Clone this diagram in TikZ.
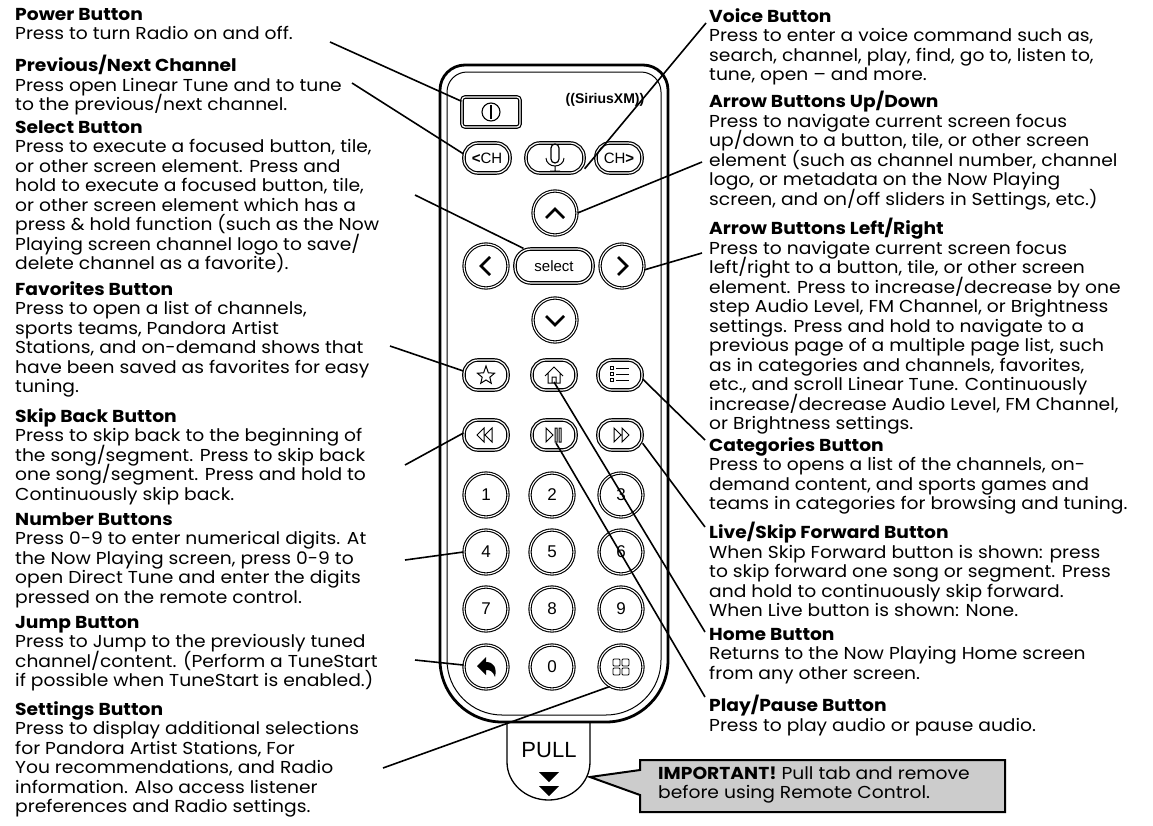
\documentclass[tikz,border=0pt]{standalone}
\usepackage{fontspec}
\setmainfont{Poppins}[FakeStretch=1.08]
\newfontfamily\arialf{Liberation Sans}
\newcommand\tightls{\lineskiplimit=-20pt\relax\lineskip=0pt\relax}
\begin{document}
\begin{tikzpicture}[x=1pt,y=-1pt,
  txt/.style={anchor=north west,align=left,inner sep=0pt,font=\fontsize{17.3}{19.5}\selectfont\tightls},
  ln/.style={line width=1.6pt},
  pill/.style={draw,line width=1.2pt,rounded corners=14pt,minimum height=30pt,double=white,double distance=1.2pt},
  circ/.style={draw,circle,line width=1.1pt,minimum size=44pt,inner sep=0pt,double=white,double distance=1.1pt,font=\arialf\fontsize{17}{17}\selectfont}]
\useasboundingbox (0,0) rectangle (1153,825);
% pull tab
\draw[line width=1.3pt,fill=white] (507,718) -- (507,762) arc(180:0:41.5 and 38) -- (590,718);
% body
\draw[line width=2.8pt,fill=white] (440,90) arc(180:270:25) -- (643,65) arc(270:360:25) -- (668,660) arc(0:90:62) -- (502,722) arc(90:180:62) -- cycle;
\draw[line width=1pt] (447,92) arc(180:270:20) -- (641,72) arc(270:360:20) -- (661,660) arc(0:90:55) -- (502,715) arc(90:180:55) -- cycle;
\node[inner sep=0pt,font=\arialf\fontsize{22}{22}\selectfont] (pull) at (549,750) {PULL};
\fill (539,772) -- (559,772) -- (549,782) -- cycle;
\fill (539,786) -- (559,786) -- (549,796) -- cycle;
% buttons
\node[draw,line width=1.2pt,minimum width=58pt,minimum height=30pt,rounded corners=3pt,double=white,double distance=1.2pt] (pw) at (491,112) {};
\draw[line width=1.1pt] (pw.center) circle(9pt); \draw[line width=1.2pt] (491,105)--(491,119);
\node[font=\arialf\bfseries\fontsize{14}{14}\selectfont,inner sep=0pt] (logo) at (605,100) {((SiriusXM))};
\node[pill,minimum width=46pt,font=\arialf\fontsize{15}{15}\selectfont] (chl) at (487,158) {\textbf{<}CH};
\node[pill,minimum width=58pt] (mic) at (555,158) {};
\draw[line width=1.2pt] (551,148) -- (551,159) arc(180:0:4) -- (559,148) arc(0:-180:4);
\draw[line width=1pt] (546,158) arc(180:0:9 and 8) (555,166)--(555,171) (550,171)--(560,171);
\node[pill,minimum width=46pt,font=\arialf\fontsize{15}{15}\selectfont] (chr) at (619,158) {CH\textbf{>}};
\node[circ] (up) at (555,213) {};
\draw[line width=2.8pt] (546,218)--(555,209)--(564,218);
\node[circ] (left) at (486,266) {};
\draw[line width=2.8pt] (490,257)--(481,266)--(490,275);
\node[pill,minimum width=78pt,minimum height=34pt,rounded corners=16pt,font=\arialf\fontsize{15}{15}\selectfont] (sel) at (554,266) {select};
\node[circ] (right) at (622,266) {};
\draw[line width=2.8pt] (618,257)--(627,266)--(618,275);
\node[circ] (down) at (555,320) {};
\draw[line width=2.8pt] (546,316)--(555,325)--(564,316);
\node[pill,minimum width=44pt] (fav) at (486,375) {};
\draw[line width=1pt] (486,366) \foreach \k in {1,...,9}{ -- ({486+ifthenelse(mod(\k,2)==1,4,9)*sin(36*\k)},{376-ifthenelse(mod(\k,2)==1,4,9)*cos(36*\k)})} -- cycle;
\node[pill,minimum width=44pt] (home) at (554,375) {};
\draw[line width=1pt] (545,376)--(554,367)--(563,376) (548,373)--(548,383)--(560,383)--(560,373) (552,383)--(552,377)--(556,377)--(556,383);
\node[pill,minimum width=44pt] (cat) at (620,375) {};
\foreach \yy in {368,374,380}{\draw[line width=0.8pt] (610,\yy-1.5) rectangle (613,\yy+1.5); \draw[line width=1pt] (616,\yy)--(629,\yy);}
\node[pill,minimum width=44pt] (rew) at (486,435) {};
\draw[line width=1pt] (484,428)--(477,435)--(484,442)--cycle (492,428)--(485,435)--(492,442)--cycle;
\node[pill,minimum width=44pt] (pp) at (554,435) {};
\draw[line width=1pt] (546,428)--(553,435)--(546,442)--cycle (555,428) rectangle (557,442) (559,428) rectangle (561,442);
\node[pill,minimum width=44pt] (ff) at (620,435) {};
\draw[line width=1pt] (614,428)--(621,435)--(614,442)--cycle (622,428)--(629,435)--(622,442)--cycle;
\foreach \n/\xx/\yy in {1/486/495,2/552/495,3/621/495,4/486/552,5/552/552,6/621/552,7/486/609,8/552/609,9/621/609,0/552/667}{\node[circ] (n\n) at (\xx,\yy) {\n};}
\node[circ] (jump) at (486,667) {};
\fill (477,666) -- (486,657) -- (486,662) .. controls (494,662) and (497,668) .. (495,677) .. controls (493,671) and (490,670) .. (486,670) -- (486,675) -- cycle;
\node[circ] (set) at (621,667) {};
\foreach \a/\b in {613/659,622/659,613/668,622/668}{\draw[line width=0.9pt,rounded corners=1pt] (\a,\b) rectangle (\a+7,\b+7);}
% left texts
\node[txt] (t1) at (15,8) {\textbf{Power Button}\\Press to turn Radio on and off.};
\node[txt] (t2) at (15,55) {\textbf{Previous/Next Channel}\\Press open Linear Tune and to tune\\to the previous/next channel.};
\node[txt] (t3) at (15,120) {\textbf{Select Button}\\Press to execute a focused button, tile,\\or other screen element. Press and\\hold to execute a focused button, tile,\\or other screen element which has a\\press \& hold function (such as the Now\\Playing screen channel logo to save/\\delete channel as a favorite).};
\node[txt] (t4) at (15,281) {\textbf{Favorites Button}\\Press to open a list of channels,\\sports teams, Pandora Artist\\Stations, and on-demand shows that\\have been saved as favorites for easy\\tuning.};
\node[txt] (t5) at (15,408) {\textbf{Skip Back Button}\\Press to skip back to the beginning of\\the song/segment. Press to skip back\\one song/segment. Press and hold to\\Continuously skip back.};
\node[txt] (t6) at (15,512) {\textbf{Number Buttons}\\Press 0-9 to enter numerical digits. At\\the Now Playing screen, press 0-9 to\\open Direct Tune and enter the digits\\pressed on the remote control.};
\node[txt] (t7) at (15,616) {\textbf{Jump Button}\\Press to Jump to the previously tuned\\channel/content. (Perform a TuneStart\\if possible when TuneStart is enabled.)};
\node[txt] (t8) at (15,701) {\textbf{Settings Button}\\Press to display additional selections\\for Pandora Artist Stations, For\\You recommendations, and Radio\\information. Also access listener\\preferences and Radio settings.};
% right texts
\node[txt] (r1) at (709,8) {\textbf{Voice Button}\\Press to enter a voice command such as,\\search, channel, play, find, go to, listen to,\\tune, open – and more.};
\node[txt] (r2) at (709,91) {\textbf{Arrow Buttons Up/Down}\\Press to navigate current screen focus\\up/down to a button, tile, or other screen\\element (such as channel number, channel\\logo, or metadata on the Now Playing\\screen, and on/off sliders in Settings, etc.)};
\node[txt] (r3) at (709,218) {\textbf{Arrow Buttons Left/Right}\\Press to navigate current screen focus\\left/right to a button, tile, or other screen\\element. Press to increase/decrease by one\\step Audio Level, FM Channel, or Brightness\\settings. Press and hold to navigate to a\\previous page of a multiple page list, such\\as in categories and channels, favorites,\\etc., and scroll Linear Tune. Continuously\\increase/decrease Audio Level, FM Channel,\\or Brightness settings.};
\node[txt] (r4) at (709,437) {\textbf{Categories Button}\\Press to opens a list of the channels, on-\\demand content, and sports games and\\teams in categories for browsing and tuning.};
\node[txt] (r5) at (709,522) {\textbf{Live/Skip Forward Button}\\When Skip Forward button is shown: press\\to skip forward one song or segment. Press\\and hold to continuously skip forward.\\When Live button is shown: None.};
\node[txt] (r6) at (709,628) {\textbf{Home Button}\\Returns to the Now Playing Home screen\\from any other screen.};
\node[txt] (r7) at (709,695) {\textbf{Play/Pause Button}\\Press to play audio or pause audio.};
% important
\draw[line width=2pt,fill=black!20] (640,760) -- (1005,760) -- (1005,812) -- (640,812) -- (640,795) -- (590,777) -- (640,770) -- cycle;
\node[txt] (imp) at (658,766) {\textbf{IMPORTANT!} Pull tab and remove\\before using Remote Control.};
% connectors
\coordinate (c1) at (330,42); \coordinate (c2) at (352,83); \coordinate (c3) at (415,195);
\coordinate (c4) at (390,346); \coordinate (c5) at (405,465); \coordinate (c6) at (405,560);
\coordinate (c7) at (415,660); \coordinate (c8) at (383,768);
\coordinate (d1) at (706,23); \coordinate (d2) at (702,162); \coordinate (d3) at (702,253);
\coordinate (d4) at (705,440); \coordinate (d5) at (705,527); \coordinate (d6) at (705,632); \coordinate (d7) at (705,697);
\draw[ln] (c1) -- (pw.160); \draw[ln] (c2) -- (chl.170); \draw[ln] (c3) -- (sel.150);
\draw[ln] (c4) -- (fav.170); \draw[ln] (c5) -- (rew.175); \draw[ln] (c6) -- (n4.180);
\draw[ln] (c7) -- (jump.175); \draw[ln] (c8) -- (set.-120);
\draw[ln] (d1) -- (mic.-20); \draw[ln] (d2) -- (up.0); \draw[ln] (d3) -- (right.-10);
\draw[ln] (d4) -- (cat.-10); \draw[ln] (d5) -- (ff.-20); \draw[ln] (d6) -- (554,382); \draw[ln] (d7) -- (556,443);
\end{tikzpicture}
\end{document}
